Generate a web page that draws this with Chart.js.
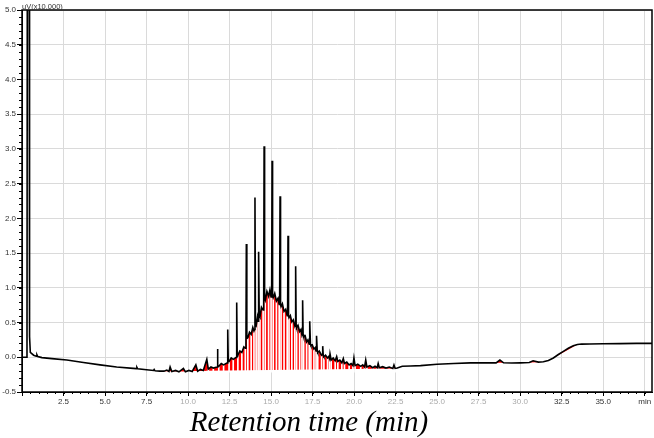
<!DOCTYPE html>
<html lang="en">
<head>
<meta charset="UTF-8">
<title>Chromatogram</title>
<script src="https://cdn.jsdelivr.net/npm/chart.js"></script>
<style>
  html, body { margin:0; padding:0; background:#fff; }
</style>
</head>
<body>
<canvas id="chrom" width="654" height="438"></canvas>

<script>
// retention time (min) and detector signal (uV x10,000)
const solventTime   = [0, 0.3, 0.32, 0.43, 0.44, 0.45, 0.46, 0.47, 0.5, 0.7, 0.86, 0.9, 0.95, 1.2, 1.8, 2.7, 3.7, 4.7, 5.7, 6.7, 6.88, 6.92, 6.97, 7.5, 7.92, 7.96, 8.01, 8.3];
const solventSignal = [0, 0, 5.6, 5.6, 2.35, 1.43, 2.3, 0.3, 0.07, 0.03, 0.015, 0.035, 0.01, -0.005, -0.02, -0.04, -0.075, -0.11, -0.14, -0.16, -0.163, -0.145, -0.167, -0.18, -0.19, -0.175, -0.195, -0.2];

const humpTime = [
  8.55, 8.72, 8.85, 8.92, 9.02, 9.25, 9.45, 9.72, 9.84, 10.05,
  10.25, 10.47, 10.58, 10.75, 10.92, 11.13, 11.22, 11.38, 11.52, 11.745,
  11.77, 11.8, 11.85, 12.0, 12.14, 12.365, 12.39, 12.42, 12.47, 12.6,
  12.72, 12.905, 12.93, 12.96, 13.0, 13.12, 13.24, 13.36, 13.45, 13.485,
  13.51, 13.54, 13.6, 13.7, 13.8, 13.9, 13.97, 14.005, 14.03, 14.06,
  14.1, 14.18, 14.22, 14.24, 14.26, 14.285, 14.33, 14.42, 14.52, 14.555,
  14.58, 14.61, 14.65, 14.75, 14.85, 14.93, 15.0, 15.035, 15.06, 15.09,
  15.13, 15.22, 15.32, 15.42, 15.49, 15.515, 15.54, 15.57, 15.6, 15.68,
  15.78, 15.88, 15.97, 15.995, 16.02, 16.05, 16.08, 16.16, 16.25, 16.34,
  16.43, 16.455, 16.48, 16.51, 16.54, 16.62, 16.72, 16.8, 16.86, 16.875,
  16.9, 16.93, 16.96, 17.05, 17.14, 17.22, 17.3, 17.315, 17.34, 17.37,
  17.4, 17.48, 17.58, 17.66, 17.71, 17.725, 17.75, 17.78, 17.81, 17.9,
  18.04, 18.085, 18.11, 18.14, 18.18, 18.28, 18.4, 18.47, 18.52, 18.55,
  18.62, 18.74, 18.86, 18.95, 19.02, 19.14, 19.26, 19.35, 19.42, 19.56,
  19.7, 19.82, 19.93, 19.99, 20.06, 20.22, 20.4, 20.52, 20.63, 20.7,
  20.77, 20.95, 21.12, 21.26, 21.39, 21.45, 21.52, 21.72, 21.92, 22.12,
  22.33, 22.4, 22.47, 22.6
];
const humpSignal = [
  -0.2, -0.185, -0.205, -0.14, -0.205, -0.19, -0.21, -0.16, -0.21, -0.19,
  -0.205, -0.11, -0.2, -0.175, -0.19, -0.03, -0.17, -0.14, -0.155, -0.14,
  0.12, -0.125, -0.13, -0.09, -0.11, -0.08, 0.40, -0.055, -0.06, -0.01,
  -0.03, 0.0, 0.79, 0.035, 0.03, 0.09, 0.07, 0.15, 0.13, 0.15,
  1.63, 0.27, 0.28, 0.36, 0.33, 0.43, 0.38, 0.40, 2.30, 0.46,
  0.45, 0.58, 0.52, 0.53, 1.52, 0.60, 0.58, 0.72, 0.68, 0.72,
  3.04, 0.85, 0.82, 0.95, 0.88, 0.97, 0.87, 0.89, 2.83, 0.90,
  0.86, 0.92, 0.81, 0.85, 0.76, 0.78, 2.32, 0.76, 0.73, 0.77,
  0.66, 0.69, 0.60, 0.62, 1.75, 0.60, 0.57, 0.60, 0.51, 0.54,
  0.45, 0.47, 1.31, 0.46, 0.43, 0.46, 0.37, 0.40, 0.32, 0.33,
  0.82, 0.33, 0.30, 0.31, 0.22, 0.25, 0.19, 0.20, 0.52, 0.19,
  0.17, 0.18, 0.12, 0.14, 0.09, 0.10, 0.31, 0.09, 0.07, 0.09,
  0.03, 0.04, 0.16, 0.03, 0.01, 0.03, -0.01, 0.01, -0.02, 0.05,
  -0.04, -0.01, -0.05, 0.01, -0.06, -0.04, -0.08, -0.02, -0.09, -0.07,
  -0.11, -0.09, -0.12, -0.01, -0.12, -0.10, -0.13, -0.11, -0.14, -0.04,
  -0.14, -0.12, -0.15, -0.13, -0.15, -0.09, -0.15, -0.135, -0.155, -0.14,
  -0.16, -0.11, -0.16, -0.155
];

const tailTime   = [22.9, 23.4, 24.0, 25.0, 26.0, 27.0, 28.0, 28.55, 28.78, 29.0, 29.5, 30.0, 30.55, 30.78, 31.1, 31.4, 31.7, 32.0, 32.3, 32.6, 32.9, 33.2, 33.45, 33.7, 34.2, 35.0, 36.0, 37.0, 37.94];
const tailSignal = [-0.13, -0.125, -0.12, -0.10, -0.09, -0.08, -0.08, -0.08, -0.04, -0.08, -0.082, -0.08, -0.075, -0.05, -0.07, -0.065, -0.045, -0.01, 0.04, 0.085, 0.13, 0.165, 0.185, 0.19, 0.192, 0.195, 0.197, 0.2, 0.2];

// integrated peak areas (drawn red): start / end time and baseline level at each end
const peakStart = [8.55, 28.55, 30.55, 32.0];
const peakEnd   = [22.6, 29.0, 31.1, 33.45];
const baseStart = [-0.2, -0.08, -0.075, -0.01];
const baseEnd   = [-0.16, -0.08, -0.07, 0.185];

// peak boundaries (white drop lines) inside the big integrated region
const dropTime = [
  8.85, 9.02, 9.45, 9.84, 10.25, 10.58, 10.92, 11.22, 11.52, 11.85,
  12.14, 12.47, 12.72, 13.0, 13.24, 13.45, 13.6, 13.8, 13.97, 14.1,
  14.22, 14.33, 14.52, 14.65, 14.85, 15.0, 15.13, 15.32, 15.49, 15.6,
  15.78, 15.97, 16.08, 16.25, 16.43, 16.54, 16.72, 16.86, 16.96, 17.14,
  17.3, 17.4, 17.58, 17.71, 17.81, 18.04, 18.18, 18.4, 18.52, 18.62,
  18.86, 19.02, 19.26, 19.42, 19.7, 19.93, 20.06, 20.4, 20.63, 20.77,
  21.12, 21.39, 21.52, 21.92, 22.33, 22.47
];

const xTickLabels = ['', '2.5', '5.0', '7.5', '10.0', '12.5', '15.0', '17.5', '20.0', '22.5', '25.0', '27.5', '30.0', '32.5', '35.0', 'min'];
const yTickLabels = ['-0.5', '0.0', '0.5', '1.0', '1.5', '2.0', '2.5', '3.0', '3.5', '4.0', '4.5', '5.0'];
const yUnit  = 'uV(x10,000)';
const xTitle = 'Retention time (min)';

const time   = solventTime.concat(humpTime, tailTime);
const signal = solventSignal.concat(humpSignal, tailSignal);
const curve  = time.map((t, i) => ({ x: t, y: signal[i] }));

// red areas, each filled down to its own baseline chord
const areaSets = [];
peakStart.forEach((s, k) => {
  areaSets.push({
    type: 'line', data: curve.filter(p => p.x >= s && p.x <= peakEnd[k]),
    borderWidth: 0, borderColor: 'rgba(0,0,0,0)', pointRadius: 0,
    backgroundColor: '#ff0000', fill: '+1', order: 2
  });
  areaSets.push({
    type: 'line', data: [{ x: s, y: baseStart[k] }, { x: peakEnd[k], y: baseEnd[k] }],
    borderWidth: 0, borderColor: 'rgba(0,0,0,0)', pointRadius: 0, fill: false, order: 3
  });
});

const drops = curve
  .filter(p => dropTime.includes(p.x))
  .map(p => ({ x: p.x, y: [-0.215, p.y] }));

const frame = {
  id: 'frame',
  afterDraw(chart) {
    const { ctx, chartArea: a, scales: { x, y } } = chart;
    ctx.save();
    ctx.strokeStyle = '#000';
    ctx.lineWidth = 1.5;
    ctx.strokeRect(a.left, a.top, a.right - a.left, a.bottom - a.top);
    ctx.lineWidth = 1;
    for (let v = -0.5; v <= 5.0001; v += 0.1) {
      const py = Math.round(y.getPixelForValue(v)) + 0.5;
      ctx.beginPath(); ctx.moveTo(a.left - 3, py); ctx.lineTo(a.left, py); ctx.stroke();
    }
    for (let v = 0.5; v < x.max; v += 0.5) {
      const px = Math.round(x.getPixelForValue(v)) + 0.5;
      ctx.beginPath(); ctx.moveTo(px, a.bottom); ctx.lineTo(px, a.bottom + 2); ctx.stroke();
    }
    ctx.fillStyle = '#333';
    ctx.font = '7.5px "Liberation Sans"';
    ctx.textAlign = 'left';
    ctx.textBaseline = 'alphabetic';
    ctx.fillText(yUnit, a.left, a.top - 1);
    ctx.fillStyle = '#000';
    ctx.font = 'italic 29px "Liberation Serif"';
    ctx.textAlign = 'center';
    ctx.fillText(xTitle, chart.width / 2 - 18, 431);
    ctx.restore();
  }
};

const tickFont = { family: 'Liberation Sans', size: 8 };

new Chart(document.getElementById('chrom'), {
  type: 'line',
  data: {
    datasets: [
      { label: 'signal', data: curve, borderColor: '#000', borderWidth: 1.6, pointRadius: 0, fill: false, order: 0 },
      { type: 'bar', data: drops, backgroundColor: '#fff', barThickness: 1, order: 1 },
      ...areaSets
    ]
  },
  options: {
    responsive: false, animation: false, devicePixelRatio: 1,
    layout: { padding: { top: 10, right: 2, left: 0, bottom: 0 } },
    plugins: { legend: { display: false }, tooltip: { enabled: false } },
    scales: {
      x: {
        type: 'linear', min: 0, max: 37.94, offset: false,
        afterFit: s => { s.height = 46; },
        ticks: {
          stepSize: 2.5, includeBounds: false, autoSkip: false, maxRotation: 0, padding: 1,
          font: tickFont,
          color: c => (c.tick.value >= 10 && c.tick.value <= 30) ? '#aaa' : '#333',
          callback: v => xTickLabels[Math.round(v / 2.5)] ?? ''
        },
        grid: { color: '#dadada', tickColor: '#000', tickLength: 4, offset: false },
        border: { color: '#000', width: 1 }
      },
      y: {
        min: -0.5, max: 5,
        afterFit: s => { s.width = 22; },
        ticks: {
          stepSize: 0.5, padding: 1, font: tickFont, color: '#333',
          callback: v => yTickLabels[Math.round((v + 0.5) / 0.5)] ?? ''
        },
        grid: { color: '#dadada', tickColor: '#000', tickLength: 5 },
        border: { color: '#000', width: 1 }
      }
    }
  },
  plugins: [frame]
});
</script>
</body>
</html>
